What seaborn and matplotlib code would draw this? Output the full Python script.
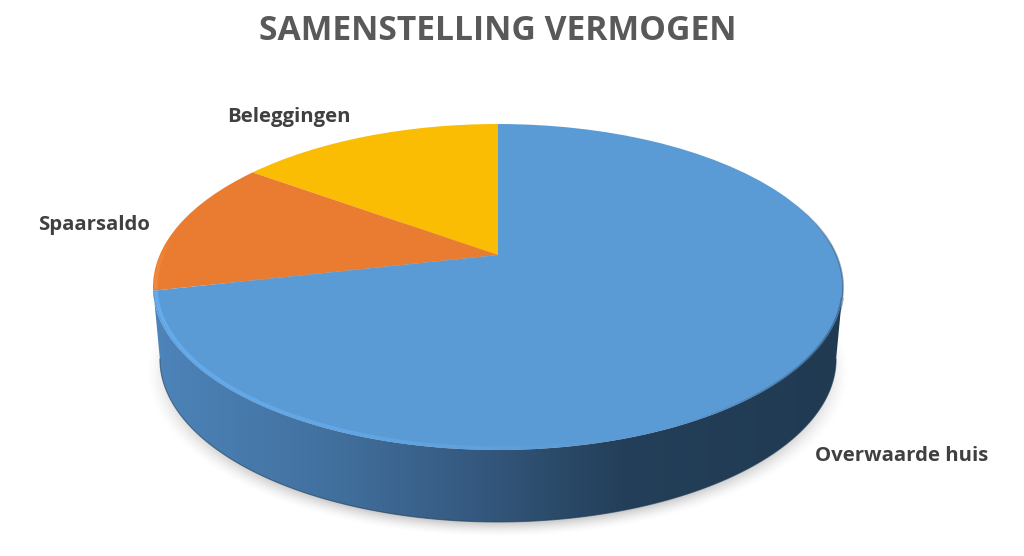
import numpy as np
import matplotlib
matplotlib.use("Agg")
import matplotlib.pyplot as plt
import seaborn as sns
from matplotlib.collections import LineCollection
from matplotlib.colors import LinearSegmentedColormap, to_rgb
from matplotlib.patches import PathPatch
from matplotlib.path import Path
from matplotlib.transforms import Transform

# data
labels = ["Beleggingen", "Spaarsaldo", "Overwaarde huis"]
values = [15.0, 13.5, 71.5]
colors = ["#fbbc04", "#e97c30", "#5b9bd5"]
title = "SAMENSTELLING VERMOGEN"

# look of the fake 3d disc, in pixels of the 1024x556 picture
CX, APEX_Y = 498, 255
SPREAD_X, SPREAD_Y, TILT = 338.3, 156.7, 0.1963
DEPTH = 72
WALL_SHRINK = 0.98
SIDE_L, SIDE_R = 191.3, 348.7  # where the tilted edge is widest


class Tilted(Transform):
    """Projects the flat unit pie onto the tilted disc."""
    input_dims = output_dims = 2
    is_separable = False
    has_inverse = False

    def __init__(self, drop=0, shrink=1.0):
        super().__init__()
        self.drop = drop
        self.shrink = shrink

    def transform_non_affine(self, values):
        xy = np.asarray(values, dtype=float)
        w = 1 + TILT * xy[:, 1]
        return np.column_stack([
            CX + self.shrink * SPREAD_X * xy[:, 0] / w,
            APEX_Y + self.drop - SPREAD_Y * xy[:, 1] / w,
        ])


def arc(theta1, theta2, radius=1.0, drop=0, shrink=1.0, n=200):
    t = np.radians(np.linspace(theta1, theta2, n))
    pts = np.column_stack([radius * np.cos(t), radius * np.sin(t)])
    return Tilted(drop, shrink).transform(pts)


def glow(ax, theta1, theta2, color, alphas, width, radius=1.0):
    # arc drawn as many short pieces so the alpha can fade along it
    pts = arc(theta1, theta2, radius)
    segs = np.stack([pts[:-1], pts[1:]], axis=1)
    a = np.interp(np.linspace(0, 1, len(segs)), np.linspace(0, 1, len(alphas)), alphas)
    rgba = [(*to_rgb(color), v) for v in a]
    ax.add_collection(LineCollection(segs, colors=rgba, linewidths=width, capstyle="butt", zorder=5))


sns.set_theme(style="white")
plt.rcParams["font.family"] = ["Open Sans", "DejaVu Sans"]

fig = plt.figure(figsize=(10.24, 5.56), dpi=100)
ax = fig.add_axes([0, 0, 1, 1])

wedges, _ = ax.pie(values, colors=colors, startangle=90, counterclock=True,
                   wedgeprops={"linewidth": 0, "edgecolor": "none", "zorder": 4})
ax.set_aspect("auto")
ax.axis("off")

for w in wedges:
    w.set_transform(Tilted() + ax.transData)

# soft shadow under the disc
xx, yy = np.meshgrid(np.arange(1024) + 0.5, np.arange(556) + 0.5)
d = np.hypot((xx - 498) / 352, (yy - 372) / 165)
shadow = np.zeros((556, 1024, 4))
shadow[..., :3] = 0.45
shadow[..., 3] = 0.40 * np.clip((1.0 - d) / 0.09, 0, 1) ** 1.6
ax.imshow(shadow, extent=(0, 1024, 556, 0), aspect="auto", zorder=1, interpolation="bilinear")

# side wall: front half of the top edge plus front half of the lower edge
front_top = arc(SIDE_L, SIDE_R)
front_low = arc(SIDE_R, SIDE_L, drop=DEPTH, shrink=WALL_SHRINK)
wall_path = Path(np.vstack([front_top, front_low, front_top[:1]]))
wall_cmap = LinearSegmentedColormap.from_list(
    "wall", [(0.0, "#4d84ba"), (0.25, "#42719f"), (0.45, "#365b82"),
             (0.68, "#243f59"), (1.0, "#203a52")])
im = ax.imshow(np.linspace(0, 1, 512)[None, :], cmap=wall_cmap, vmin=0, vmax=1,
               extent=(153, 843, 556, 0), aspect="auto", zorder=2)
wall = PathPatch(wall_path, transform=ax.transData, facecolor="none", edgecolor="none")
ax.add_patch(wall)
im.set_clip_path(wall)
ax.set_xlim(0, 1024)
ax.set_ylim(556, 0)

# thin dark line on the lower edge of the wall
low = arc(SIDE_L, SIDE_R, drop=DEPTH, shrink=WALL_SHRINK)
ax.plot(low[:, 0], low[:, 1], color="#1f3a55", lw=0.8, alpha=0.6, zorder=3)

# light rim on the left, soft dark rim on the right
glow(ax, 193, 285, "#68b0f2", [0.95, 0.85, 0.7, 0.55, 0.3, 0], 2.6, radius=0.992)
glow(ax, 172, 192, "#f79240", [0, 0.6, 0.9], 2.6, radius=0.992)
glow(ax, 295, 345, "#2c4d6e", [0, 0.3, 0.5, 0.6], 2.2, radius=1.0)
glow(ax, 345, 380, "#2c4d6e", [0.6, 0.6, 0], 1.2, radius=1.0)

ax.text(498, 31, title, ha="center", va="center", fontsize=24.2, fontweight="bold",
        color="#595959", zorder=6)
ax.text(227, 117, labels[0], ha="left", va="center", fontsize=14.7, fontweight="bold",
        color="#404040", zorder=6)
ax.text(38, 225, labels[1], ha="left", va="center", fontsize=14.7, fontweight="bold",
        color="#404040", zorder=6)
ax.text(815, 456, labels[2], ha="left", va="center", fontsize=14.7, fontweight="bold",
        color="#404040", zorder=6)

fig.savefig("out.png", dpi=100, facecolor="white")
